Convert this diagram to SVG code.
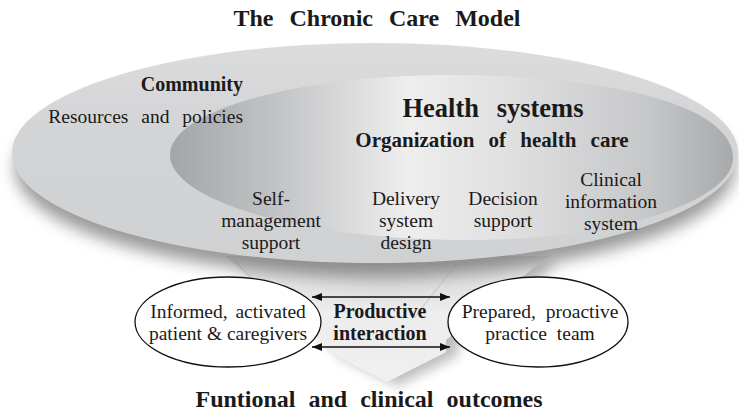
<svg xmlns="http://www.w3.org/2000/svg" width="739" height="414" viewBox="0 0 739 414">
<style>
  text { font-family: "Liberation Serif", Tinos, "Noto Serif", "DejaVu Serif", serif; fill: #1a1a1a; }
  .b { font-weight: bold; }
  .lbl { font-size: 19.5px; text-anchor: middle; }
  .node { fill: #ffffff; stroke: #111111; stroke-width: 1.3; }
  .conn { stroke: #111111; stroke-width: 1.5; fill: none; marker-start: url(#ah); marker-end: url(#ah); }
</style>
<defs>
  <marker id="ah" viewBox="0 0 10 8" refX="10" refY="4" markerWidth="10" markerHeight="8" markerUnits="userSpaceOnUse" orient="auto-start-reverse">
    <path d="M0,0 L10,4 L0,8 Z" fill="#111111"/>
  </marker>
  <filter id="blur" x="-20%" y="-40%" width="140%" height="180%"><feGaussianBlur stdDeviation="8"/></filter>
  <filter id="blur2" x="-30%" y="-30%" width="160%" height="160%"><feGaussianBlur stdDeviation="6"/></filter>
  <linearGradient id="outerG" x1="0" y1="0" x2="0" y2="1">
    <stop offset="0" stop-color="#dcdcdd"/>
    <stop offset="0.4" stop-color="#d3d4d6"/>
    <stop offset="1" stop-color="#d0d1d3"/>
  </linearGradient>
  <linearGradient id="innerG" x1="0" y1="0" x2="1" y2="0">
    <stop offset="0" stop-color="#a4a5a7"/>
    <stop offset="0.2" stop-color="#c4c5c7"/>
    <stop offset="0.42" stop-color="#eeeeee"/>
    <stop offset="0.6" stop-color="#e0e0e1"/>
    <stop offset="0.85" stop-color="#c6c7c9"/>
    <stop offset="1" stop-color="#a8a9ab"/>
  </linearGradient>
  <linearGradient id="funnelG" x1="0" y1="0" x2="0" y2="1">
    <stop offset="0" stop-color="#c8c8c9"/>
    <stop offset="0.45" stop-color="#e8e8e8"/>
    <stop offset="1" stop-color="#d6d6d7"/>
  </linearGradient>
  <radialGradient id="funnelFade" cx="0.5" cy="0.2" r="0.7">
    <stop offset="0" stop-color="#ffffff" stop-opacity="0"/>
    <stop offset="1" stop-color="#ffffff" stop-opacity="0.6"/>
  </radialGradient>
</defs>

<g id="background-shapes">
  <!-- funnel shadow -->
  <path d="M235,262 L560,262 L458,345 L458,356 L397,386 L338,356 L332,345 Z" fill="#8a8a8c" opacity="0.55" filter="url(#blur2)"/>
  <!-- funnel -->
  <path d="M225,256 L548,256 L446,340 L446,352 L387,382 L328,352 L322,340 Z" fill="url(#funnelG)"/>
  <path d="M225,256 L548,256 L446,340 L446,352 L387,382 L328,352 L322,340 Z" fill="url(#funnelFade)"/>
  <path d="M236,262 L308,336 M458,262 L414,318" stroke="#c4c4c5" stroke-width="1" fill="none"/>
  <!-- outer shadow -->
  <ellipse cx="375" cy="168" rx="360" ry="108" fill="#6e6e70" opacity="0.7" filter="url(#blur)"/>
  <!-- outer community ellipse -->
  <ellipse cx="375" cy="153" rx="363" ry="110" fill="url(#outerG)"/>
  <!-- inner health systems ellipse -->
  <path d="M170,155 C170,110 300,75 450,75 C610,75 733,105 733,158 C733,200 620,240 470,240 C300,240 170,200 170,155 Z" fill="url(#innerG)"/>
</g>

<g id="title">
  <text class="b" x="377" y="26" font-size="24" text-anchor="middle" word-spacing="10">The Chronic Care Model</text>
</g>

<g id="community">
  <text class="b" x="243" y="91" font-size="20" text-anchor="end">Community</text>
  <text x="243" y="123" font-size="19.5" text-anchor="end" word-spacing="8">Resources and policies</text>
</g>

<g id="health-systems">
  <text class="b" x="493" y="117" font-size="26.5" text-anchor="middle" word-spacing="11">Health systems</text>
  <text class="b" x="492" y="147" font-size="21" text-anchor="middle" word-spacing="9">Organization of health care</text>
</g>

<g id="self-management">
  <text class="lbl" x="271" y="205">Self-</text>
  <text class="lbl" x="271" y="227">management</text>
  <text class="lbl" x="271" y="249">support</text>
</g>

<g id="delivery-system-design">
  <text class="lbl" x="406" y="205">Delivery</text>
  <text class="lbl" x="406" y="227">system</text>
  <text class="lbl" x="406" y="249">design</text>
</g>

<g id="decision-support">
  <text class="lbl" x="503" y="205">Decision</text>
  <text class="lbl" x="503" y="227">support</text>
</g>

<g id="clinical-information-system">
  <text class="lbl" x="611" y="186">Clinical</text>
  <text class="lbl" x="611" y="208">information</text>
  <text class="lbl" x="611" y="230">system</text>
</g>

<g id="patient">
  <ellipse class="node" cx="228" cy="322" rx="93" ry="45"/>
  <text class="lbl" x="228" y="318" word-spacing="3">Informed, activated</text>
  <text class="lbl" x="228" y="340">patient &amp; caregivers</text>
</g>

<g id="practice-team">
  <ellipse class="node" cx="538" cy="322" rx="90" ry="45"/>
  <text class="lbl" x="540" y="318" word-spacing="5">Prepared, proactive</text>
  <text class="lbl" x="540" y="340" word-spacing="5">practice team</text>
</g>

<g id="productive-interaction">
  <text class="b" x="380" y="318" font-size="20" text-anchor="middle">Productive</text>
  <text class="b" x="380" y="340" font-size="20" text-anchor="middle">interaction</text>
</g>

<g id="connectors">
  <line class="conn" x1="312" y1="297" x2="450" y2="297"/>
  <line class="conn" x1="312" y1="347" x2="450" y2="347"/>
</g>

<g id="outcomes">
  <text class="b" x="369" y="407" font-size="24" text-anchor="middle" word-spacing="7">Funtional and clinical outcomes</text>
</g>
</svg>
